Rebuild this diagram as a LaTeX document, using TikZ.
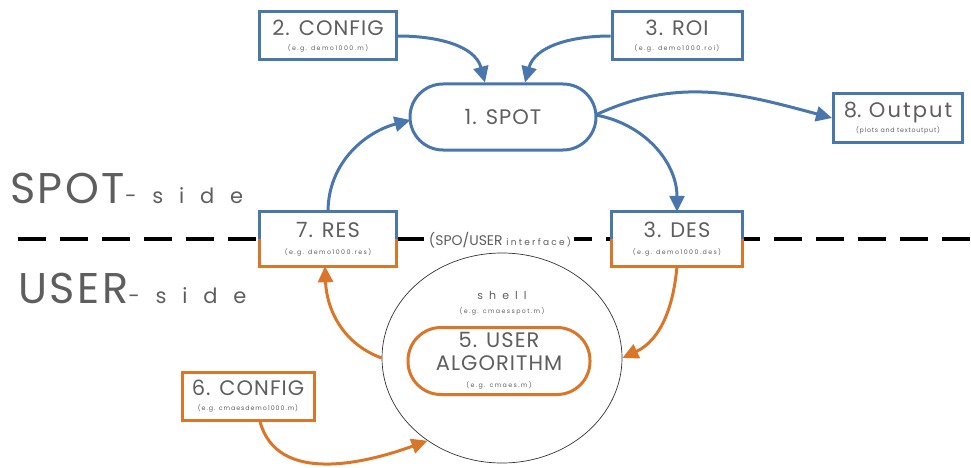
\documentclass[tikz,border=0pt]{standalone}
\usepackage{fontspec}
\setmainfont{Poppins}
\usetikzlibrary{arrows.meta,shapes.geometric,calc}
\definecolor{spotblue}{HTML}{4A76AE}
\definecolor{userorange}{HTML}{D9762A}
\definecolor{txtgray}{HTML}{5E5E5E}
\newcommand{\mainlbl}[1]{{\fontsize{21}{23}\selectfont\addfontfeature{LetterSpace=5}#1}}
\newcommand{\sublbl}[1]{{\fontsize{6.3}{8}\selectfont\addfontfeature{LetterSpace=22}#1}}
\newcommand{\smallspaced}[3]{{\fontsize{#1}{#1}\selectfont\addfontfeature{LetterSpace=#2}#3}}
\begin{document}
\begin{tikzpicture}[x=1pt,y=1pt,
  box/.style={draw=#1, line width=3pt, fill=white, minimum height=48pt,
    align=center, inner sep=0pt, text=txtgray, font=\fontsize{12}{12}\selectfont},
  splitbox/.style={fill=white, minimum height=54pt, align=center, inner sep=0pt,
    text=txtgray, font=\fontsize{12}{12}\selectfont},
  pill/.style={draw=#1, line width=3pt, fill=white, rounded corners=33pt,
    align=center, inner sep=0pt, text=txtgray},
  bluearrow/.style={draw=spotblue, line width=3pt, -{Triangle[length=16pt,width=15pt]}},
  orangearrow/.style={draw=userorange, line width=3pt, -{Triangle[length=16pt,width=15pt]}},
  lbl/.style={text=txtgray, inner sep=0pt}]
\useasboundingbox (0,0) rectangle (971,-468);

% dashed interface line
\coordinate (dashL) at (18,-239);
\coordinate (dashR) at (971,-239);
\draw[line width=4pt, dash pattern=on 28pt off 14pt] (dashL) -- (dashR);

% side labels
\node[lbl, anchor=base west] (spotside) at (10,-203)
  {{\fontsize{43}{43}\selectfont\addfontfeature{LetterSpace=6}SPOT}\smallspaced{21}{75}{-side}};
\node[lbl, anchor=base west] (userside) at (18,-303)
  {{\fontsize{43}{43}\selectfont\addfontfeature{LetterSpace=6}USER}\smallspaced{21}{75}{-side}};

% interface label
\node[lbl, fill=white, inner xsep=3pt, inner ysep=2pt] (iface) at (500,-240)
  {{\fontsize{14}{14}\selectfont (SPO/USER }\smallspaced{9}{25}{interface)}};

% ellipse (shell)
\node[ellipse, draw=black!80, line width=0.7pt, minimum width=240pt, minimum height=210pt, inner sep=0pt] (shell) at (502,-358) {};
\node[lbl, align=center, font=\fontsize{12}{12}\selectfont] (shelllbl) at (502,-303)
  {\smallspaced{11}{55}{shell}\\[2pt]\sublbl{(e.g. cmaesspot.m)}};

% nodes
\node[box=spotblue, minimum width=137pt] (cfg2) at (328,-36)
  {\mainlbl{2. CONFIG}\\[3pt]\sublbl{(e.g. demo1000.m)}};
\node[box=spotblue, minimum width=130pt] (roi) at (677,-36)
  {\mainlbl{3. ROI}\\[3pt]\sublbl{(e.g. demo1000.roi)}};
\node[pill=spotblue, minimum width=186pt, minimum height=66pt] (spot) at (503,-117)
  {\mainlbl{1. SPOT}};
\node[box=spotblue, minimum width=129pt] (out) at (898,-118)
  {{\fontsize{21}{23}\selectfont 8. \addfontfeature{LetterSpace=10}Output}\\[3pt]{\fontsize{6.3}{8}\selectfont\addfontfeature{LetterSpace=12}(plots and textoutput)}};

\node[splitbox, minimum width=136pt] (res) at (328,-239)
  {\mainlbl{7. RES}\\[5pt]\sublbl{(e.g. demo1000.res)}};
\node[splitbox, minimum width=130pt] (des) at (677,-239)
  {\mainlbl{3. DES}\\[5pt]\sublbl{(e.g. demo1000.des)}};
\foreach \n in {res,des}{
  \draw[spotblue, line width=3pt] (\n.west) -- (\n.north west) -- (\n.north east) -- (\n.east);
  \draw[userorange, line width=3pt] (\n.west) -- (\n.south west) -- (\n.south east) -- (\n.east);
}

\node[pill=userorange, minimum width=182pt, minimum height=67pt,
  font=\fontsize{21}{23}\selectfont\addfontfeature{LetterSpace=5}] (alg) at (499,-361)
  {5. USER\\ALGORITHM\\[-6pt]\sublbl{(e.g. cmaes.m)}};

\node[box=userorange, minimum width=132pt] (cfg6) at (248,-396)
  {\mainlbl{6. CONFIG}\\[3pt]{\fontsize{6.3}{8}\selectfont\addfontfeature{LetterSpace=15}(e.g. cmaesdemo1000.m)}};

% blue connectors
\draw[bluearrow] (cfg2.east) to[out=0, in=105] ($(spot.north)+(-18,0)$);
\draw[bluearrow] (roi.west) to[out=180, in=75] ($(spot.north)+(22,0)$);
\draw[bluearrow] (res.north) to[out=90, in=195] ($(spot.west)+(2,-3)$);
\draw[bluearrow] ($(spot.east)+(-2,2)$) to[out=-10, in=90] (des.north);
\draw[bluearrow] ($(spot.east)+(-2,2)$) to[out=25, in=165] (out.west);

% orange connectors
\draw[orangearrow] (shell.west) to[out=160, in=-88] ($(res.south)+(-3,0)$);
\draw[orangearrow] (des.south) to[out=-95, in=25] (shell.east);
\draw[orangearrow] ($(cfg6.south)+(12,0)$) to[out=-75, in=200] (shell.228);
\end{tikzpicture}
\end{document}
